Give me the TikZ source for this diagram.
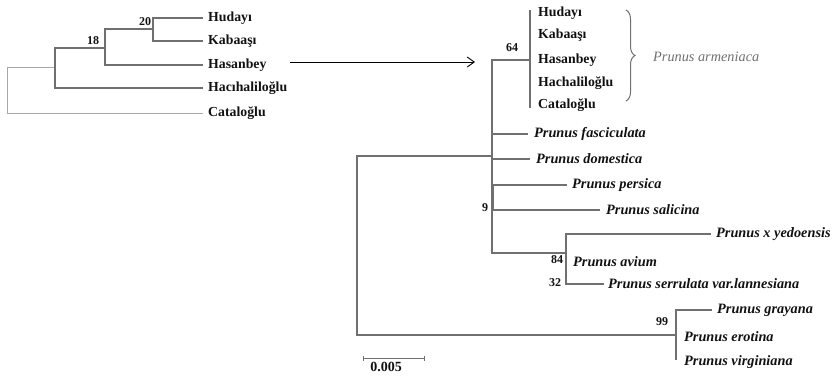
\documentclass[tikz,border=0pt]{standalone}
\usepackage{fontspec}
\setmainfont{Liberation Serif}
\usetikzlibrary{decorations.pathreplacing,arrows.meta}
\definecolor{br}{HTML}{707070}
\definecolor{brl}{HTML}{A8A8A8}
\definecolor{lbl}{HTML}{111111}
\begin{document}
\begin{tikzpicture}[x=1pt,y=-1pt,
  branch/.style={draw=br,line width=1.1pt},
  lightbranch/.style={draw=brl,line width=1pt},
  leaf/.style={anchor=west,inner sep=0pt,text=lbl,font=\fontsize{13.8}{15}\selectfont\bfseries},
  sp/.style={anchor=west,inner sep=0pt,text=lbl,font=\fontsize{14.3}{16}\selectfont\bfseries\itshape},
  boot/.style={inner sep=0pt,text=lbl,font=\fontsize{12}{14}\selectfont\bfseries}]
\useasboundingbox (0,0) rectangle (833,376);
% ---------- left tree ----------
\coordinate (lr) at (7,90);
\coordinate (lA) at (55,67);
\coordinate (lB) at (105,48);
\coordinate (lC) at (153,29);
\coordinate (lhud) at (203,18);
\coordinate (lkab) at (203,41);
\coordinate (lhas) at (203,65);
\coordinate (lhac) at (203,88);
\coordinate (lcat) at (203,113);
\draw[lightbranch] (lr) |- (lA);
\draw[lightbranch] (lr) |- (lcat);
\draw[branch] (lA) |- (lB);
\draw[branch] (lA) |- (lhac);
\draw[branch] (lB) |- (lC);
\draw[branch] (lB) |- (lhas);
\draw[branch] (lC) |- (lhud);
\draw[branch] (lC) |- (lkab);
\node[leaf] (Lhud) at ([xshift=5pt]lhud) {Hudayı};
\node[leaf] (Lkab) at ([xshift=5pt]lkab) {Kabaaşı};
\node[leaf] (Lhas) at ([xshift=5pt]lhas) {Hasanbey};
\node[leaf] (Lhac) at ([xshift=5pt]lhac) {Hacıhaliloğlu};
\node[leaf] (Lcat) at ([xshift=5pt]lcat) {Cataloğlu};
\node[boot] (b20) at (145,22) {20};
\node[boot] (b18) at (93,41) {18};
% ---------- arrow ----------
\coordinate (arrS) at (290,62);
\coordinate (arrE) at (475,62);
\draw[draw=black,line width=0.9pt,-{Straight Barb[length=7pt,width=10pt]}] (arrS) -- (arrE);
% ---------- right tree ----------
\coordinate (R0) at (357,245);
\coordinate (R1) at (492,156);
\coordinate (R64) at (530,60);
\coordinate (R64t) at (530,10);
\coordinate (R64b) at (530,108);
\coordinate (R9) at (493,197);
\coordinate (R84) at (566,253);
\coordinate (R84t) at (566,234);
\coordinate (R84b) at (566,284);
\coordinate (R99) at (676,335);
\coordinate (R99b) at (676,360);
\coordinate (cfas) at (528,134);
\coordinate (cdom) at (530,159);
\coordinate (cper) at (567,185);
\coordinate (csal) at (600,210);
\coordinate (cyed) at (711,234);
\coordinate (cser) at (604,284);
\coordinate (cgra) at (712,310);
\draw[branch] (R0) |- (R1);
\draw[branch] (R0) |- (R99);
\draw[branch] (R1) |- (R64);
\draw[branch] (R1) |- (cfas);
\draw[branch] (R1) |- (cdom);
\draw[branch] (R1) |- (R9);
\draw[branch] (R1) |- (R84);
\draw[branch] (R64t) -- (R64b);
\draw[branch] (R9) |- (cper);
\draw[branch] (R9) |- (csal);
\draw[branch] (R84t) -- (R84b);
\draw[branch] (R84) |- (cyed);
\draw[branch] (R84) |- (cser);
\draw[branch] (R99) |- (cgra);
\draw[branch] (R99) -- (R99b);
% labels
\node[leaf] (Rhud) at (538,13) {Hudayı};
\node[leaf] (Rkab) at (538,35) {Kabaaşı};
\node[leaf] (Rhas) at (538,60) {Hasanbey};
\node[leaf] (Rhac) at (538,83) {Hachaliloğlu};
\node[leaf] (Rcat) at (538,105) {Cataloğlu};
\node[sp] (Sfas) at ([xshift=6pt]cfas) {Prunus fasciculata};
\node[sp] (Sdom) at ([xshift=6pt]cdom) {Prunus domestica};
\node[sp] (Sper) at ([xshift=5pt]cper) {Prunus persica};
\node[sp] (Ssal) at ([xshift=6pt]csal) {Prunus salicina};
\node[sp] (Syed) at ([xshift=5pt]cyed) {Prunus x yedoensis};
\node[sp] (Sav) at (573,262) {Prunus avium};
\node[sp] (Sser) at ([xshift=4pt]cser) {Prunus serrulata var.lannesiana};
\node[sp] (Sgra) at ([xshift=5pt]cgra) {Prunus grayana};
\node[sp] (Sero) at (684,337) {Prunus erotina};
\node[sp] (Svir) at (684,362) {Prunus virginiana};
\node[boot] (b64) at (512,48) {64};
\node[boot] (b9) at (485,208) {9};
\node[boot] (b84) at (557,260) {84};
\node[boot] (b32) at (555,283) {32};
\node[boot] (b99) at (662,322) {99};
% brace
\coordinate (brT) at (626,10);
\coordinate (brB) at (626,101);
\draw[draw=br,line width=1pt,decorate,decoration={brace,amplitude=9pt}] (brT) -- (brB);
\node[anchor=west,inner sep=0pt,text=br,font=\fontsize{14.3}{16}\selectfont\itshape] (arm) at (653,57) {Prunus armeniaca};
% scale bar
\coordinate (sbL) at (363,358);
\coordinate (sbR) at (425,358);
\draw[branch,line width=1pt,{Bar[width=5pt]}-{Bar[width=5pt]}] (sbL) -- (sbR);
\node[inner sep=0pt,text=lbl,font=\fontsize{14}{16}\selectfont\bfseries] (sbt) at (386,367) {0.005};
\end{tikzpicture}
\end{document}
